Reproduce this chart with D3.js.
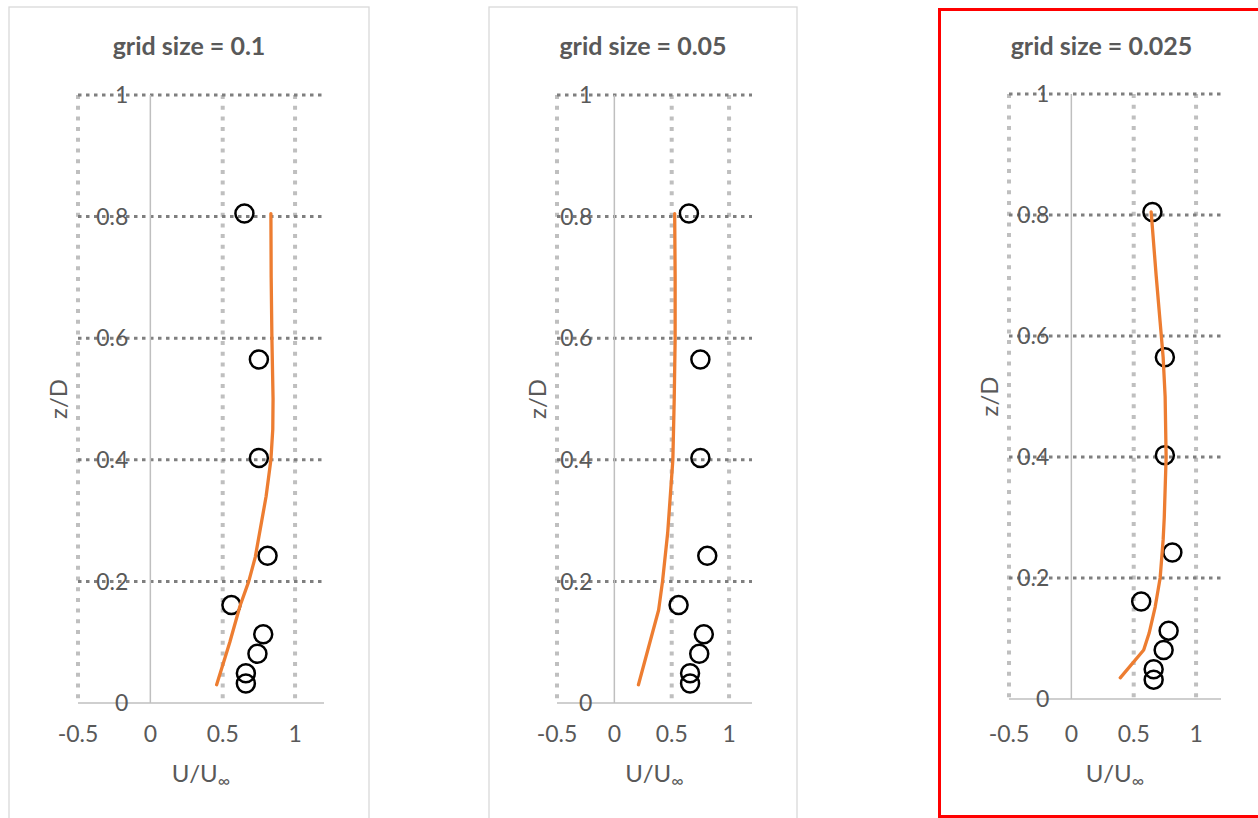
<!DOCTYPE html>
<html>
<head>
<meta charset="utf-8">
<script src="https://cdn.jsdelivr.net/npm/d3@7"></script>
<style>
  html, body { margin: 0; padding: 0; background: #ffffff; }
  svg { display: block; }
  text { font-family: Lato, "Open Sans", sans-serif; fill: #595959; }
</style>
</head>
<body>
<svg id="chart" width="1258" height="818"></svg>
<script>
// Measured velocity profile (same in every panel)
const expZ = [0.805, 0.565, 0.403, 0.242, 0.161, 0.113, 0.081, 0.049, 0.032];
const expU = [0.65, 0.75, 0.75, 0.81, 0.56, 0.78, 0.74, 0.66, 0.66];

// Simulated profiles for each grid size
const simZ1 = [0.03, 0.10, 0.16, 0.20, 0.24, 0.30, 0.34, 0.40, 0.45, 0.50, 0.60, 0.70, 0.805];
const simU1 = [0.458, 0.549, 0.62, 0.68, 0.725, 0.77, 0.80, 0.833, 0.846, 0.848, 0.84, 0.835, 0.833];

const simZ2 = [0.03, 0.10, 0.153, 0.20, 0.28, 0.40, 0.50, 0.60, 0.70, 0.805];
const simU2 = [0.21, 0.31, 0.386, 0.42, 0.465, 0.51, 0.522, 0.53, 0.53, 0.526];

const simZ3 = [0.035, 0.081, 0.109, 0.152, 0.20, 0.263, 0.30, 0.40, 0.50, 0.565, 0.70, 0.805];
const simU3 = [0.392, 0.58, 0.624, 0.672, 0.712, 0.736, 0.745, 0.76, 0.752, 0.736, 0.68, 0.64];

const titles = ["grid size = 0.1", "grid size = 0.05", "grid size = 0.025"];

// Axis settings
const xDomain = [-0.5, 1.2];
const yDomain = [0, 1];
const xTicks = [-0.5, 0, 0.5, 1];
const yTicks = [0, 0.2, 0.4, 0.6, 0.8, 1];
const xGridVals = [-0.5, 0.5, 1];
const yGridVals = [0.2, 0.4, 0.6, 0.8, 1];

// Panel geometry
const panels = [
  { box: [9, 7, 360, 830], stroke: "#d9d9d9", sw: 1.3, x: [78, 324], y: [703, 95], sim: [simZ1, simU1] },
  { box: [489, 7, 308, 830], stroke: "#d9d9d9", sw: 1.3, x: [557, 752], y: [703, 95], sim: [simZ2, simU2] },
  { box: [939.5, 9.5, 324, 807], stroke: "#ff0000", sw: 3, x: [1009, 1221], y: [699, 94], sim: [simZ3, simU3] }
];

const svg = d3.select("#chart");
const fmt = d => (d === 0 ? "0" : String(d));

panels.forEach((p, i) => {
  const g = svg.append("g");
  const x = d3.scaleLinear().domain(xDomain).range(p.x);
  const y = d3.scaleLinear().domain(yDomain).range(p.y);

  // chart frame
  g.append("rect")
    .attr("x", p.box[0]).attr("y", p.box[1])
    .attr("width", p.box[2]).attr("height", p.box[3])
    .attr("fill", "#ffffff")
    .attr("stroke", p.stroke).attr("stroke-width", p.sw);

  // title
  g.append("text")
    .attr("x", p.box[0] + p.box[2] / 2)
    .attr("y", 55)
    .attr("text-anchor", "middle")
    .style("font-size", "25px").style("font-weight", "bold")
    .text(titles[i]);

  // vertical gridlines
  g.selectAll(".vgrid").data(xGridVals).enter().append("line")
    .attr("x1", d => x(d)).attr("x2", d => x(d))
    .attr("y1", y(1)).attr("y2", y(0))
    .attr("stroke", "#bfbfbf").attr("stroke-width", 4)
    .attr("stroke-dasharray", "4 6.7");

  // horizontal gridlines
  g.selectAll(".hgrid").data(yGridVals).enter().append("line")
    .attr("x1", x(xDomain[0])).attr("x2", x(xDomain[1]))
    .attr("y1", d => y(d)).attr("y2", d => y(d))
    .attr("stroke", "#7f7f7f").attr("stroke-width", 3)
    .attr("stroke-dasharray", "3.5 4.5");

  // axes lines through zero
  g.append("line")
    .attr("x1", x(0)).attr("x2", x(0)).attr("y1", y(1)).attr("y2", y(0))
    .attr("stroke", "#bfbfbf").attr("stroke-width", 1.5);
  g.append("line")
    .attr("x1", x(xDomain[0])).attr("x2", x(xDomain[1])).attr("y1", y(0)).attr("y2", y(0))
    .attr("stroke", "#bfbfbf").attr("stroke-width", 1.5);

  // tick labels
  g.selectAll(".xl").data(xTicks).enter().append("text")
    .attr("x", d => x(d)).attr("y", 742)
    .attr("text-anchor", "middle")
    .style("font-size", "23px")
    .text(fmt);
  g.selectAll(".yl").data(yTicks).enter().append("text")
    .attr("x", x(0) - 22).attr("y", d => y(d))
    .attr("dy", "0.36em")
    .attr("text-anchor", "end")
    .style("font-size", "23px")
    .text(fmt);

  // axis titles
  const xt = g.append("text")
    .attr("x", (p.x[0] + p.x[1]) / 2).attr("y", 782)
    .attr("text-anchor", "middle")
    .style("font-size", "24px");
  xt.append("tspan").text("U/U");
  xt.append("tspan").attr("dy", 5).style("font-size", "17px").text("∞");

  g.append("text")
    .attr("transform", `translate(${p.x[0] - 11},${(p.y[0] + p.y[1]) / 2}) rotate(-90)`)
    .attr("text-anchor", "middle")
    .style("font-size", "24px")
    .text("z/D");

  // measured points
  const pts = expZ.map((z, k) => ({ z, u: expU[k] }));
  g.selectAll(".pt").data(pts).enter().append("circle")
    .attr("cx", d => x(d.u)).attr("cy", d => y(d.z))
    .attr("r", 9)
    .attr("fill", "none").attr("stroke", "#000000").attr("stroke-width", 2.5);

  // simulated profile
  const line = d3.line().x(d => x(d.u)).y(d => y(d.z));
  const sim = p.sim[0].map((z, k) => ({ z, u: p.sim[1][k] }));
  g.append("path")
    .datum(sim)
    .attr("d", line)
    .attr("fill", "none").attr("stroke", "#ed7d31").attr("stroke-width", 3.3)
    .attr("stroke-linejoin", "round").attr("stroke-linecap", "round");
});
</script>
</body>
</html>
